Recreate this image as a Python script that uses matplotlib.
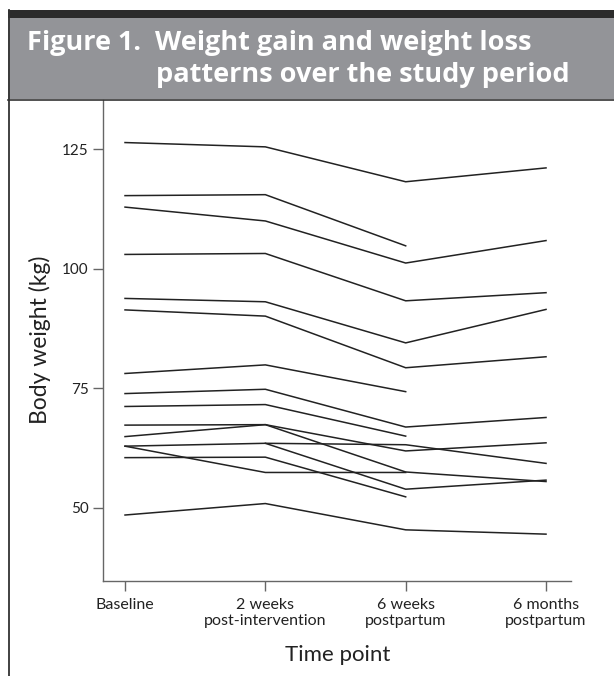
import numpy as np
import matplotlib
matplotlib.use("Agg")
import matplotlib.pyplot as plt
from matplotlib.patches import Rectangle
from matplotlib.lines import Line2D

# time points shown on the x axis
time_labels = ["Baseline", "2 weeks\npost-intervention", "6 weeks\npostpartum", "6 months\npostpartum"]

# body weight (kg) of each participant, nan where no measurement
w01 = [126.4, 125.5, 118.2, 121.1]
w02 = [115.3, 115.5, 104.8, np.nan]
w03 = [112.9, 110.0, 101.2, 105.9]
w04 = [103.0, 103.2, 93.3, 95.0]
w05 = [93.8, 93.1, 84.5, 91.5]
w06 = [91.4, 90.1, 79.3, 81.6]
w07 = [78.1, 79.9, 74.3, np.nan]
w08 = [73.9, 74.8, 66.9, 68.9]
w09 = [71.2, 71.6, 65.0, np.nan]
w10 = [67.3, 67.4, 61.9, 63.6]
w11 = [64.9, 67.4, 57.5, 55.5]
w12 = [62.9, 63.5, 63.2, 59.3]
w13 = [62.9, 57.4, 57.4, np.nan]
w14 = [np.nan, 63.5, 53.9, 55.8]
w15 = [60.5, 60.6, 52.3, np.nan]
w16 = [48.5, 50.9, 45.4, 44.5]

participants = [w01, w02, w03, w04, w05, w06, w07, w08,
                w09, w10, w11, w12, w13, w14, w15, w16]

y_ticks = [50, 75, 100, 125]

W, H = 614, 676
FONT = "Lato"
TITLE_FONT = "Open Sans"


# we convert pixel positions of the page into figure fractions
def fx(px):
    return px / W


def fy(py):
    return 1 - py / H


def draw_frame(fig):
    # dark band at the very top
    fig.add_artist(Rectangle((fx(8), fy(18)), 1, fy(10) - fy(18),
                             transform=fig.transFigure, color="#2b2b2b", lw=0))
    # grey title band
    fig.add_artist(Rectangle((fx(8), fy(99)), 1, fy(18) - fy(99),
                             transform=fig.transFigure, color="#939498", lw=0))
    # thin line under the title band
    fig.add_artist(Line2D([fx(8), 1], [fy(99.5), fy(99.5)],
                          transform=fig.transFigure, color="#333333", lw=1.2))
    # left border of the box
    fig.add_artist(Line2D([fx(8.5), fx(8.5)], [fy(10), 0],
                          transform=fig.transFigure, color="#333333", lw=1.3))

    title_kw = dict(color="white", fontsize=19.5, fontweight="bold", family=TITLE_FONT,
                    ha="left", va="baseline")
    fig.text(fx(27), fy(50), "Figure 1.", **title_kw)
    fig.text(fx(155), fy(50), "Weight gain and weight loss", **title_kw)
    fig.text(fx(156), fy(82), "patterns over the study period", **title_kw)


def draw_chart(fig):
    ax = fig.add_axes([fx(102.7), fy(581), fx(571) - fx(102.7), fy(100) - fy(581)])
    x = np.arange(len(time_labels))
    for w in participants:
        ax.plot(x, w, color="#222222", lw=1.1, solid_joinstyle="miter")

    ax.set_xlim(-0.159, 3.178)
    ax.set_ylim(34.7, 135.3)
    ax.set_xticks(x)
    ax.set_xticklabels(time_labels, fontsize=11.5, family=FONT, linespacing=1.2)
    ax.set_yticks(y_ticks)
    ax.set_yticklabels([str(t) for t in y_ticks], fontsize=11, family=FONT)

    for side in ["top", "right"]:
        ax.spines[side].set_visible(False)
    for side in ["left", "bottom"]:
        ax.spines[side].set_color("#666666")
        ax.spines[side].set_linewidth(1.0)
    ax.tick_params(axis="both", direction="out", length=7, width=1.0,
                   color="#666666", labelcolor="#222222")
    ax.tick_params(axis="x", pad=5)
    ax.tick_params(axis="y", pad=3)

    # axis captions
    fig.text(fx(40), fy(340), "Body weight (kg)", rotation=90, fontsize=16.5,
             family=FONT, ha="center", va="center", color="#222222")
    fig.text(fx(338), fy(655), "Time point", fontsize=16, family=FONT,
             ha="center", va="center", color="#222222")
    return ax


def main():
    fig = plt.figure(figsize=(W / 100, H / 100), dpi=100)
    draw_frame(fig)
    draw_chart(fig)
    fig.savefig("out.png", dpi=100)


if __name__ == "__main__":
    main()
